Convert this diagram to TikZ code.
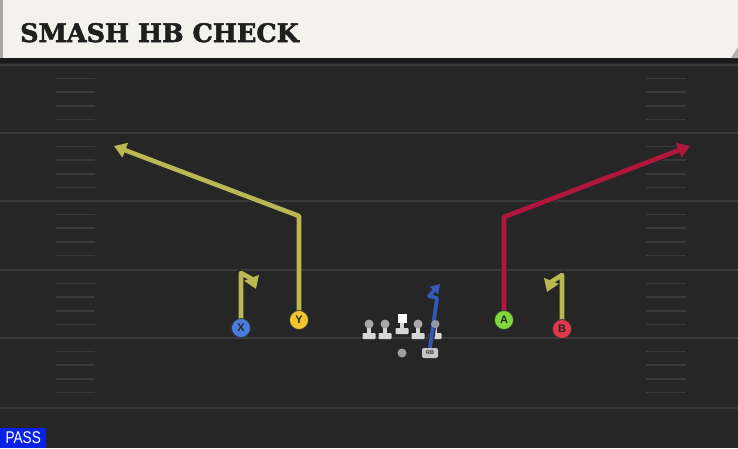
\documentclass[tikz,border=0pt]{standalone}
\usepackage{fontspec}
\setmainfont{DejaVu Serif}
\newfontfamily\titlefont[FakeBold=2]{DejaVu Serif}
\newfontfamily\labelfont{Liberation Sans}
\newfontfamily\passfont[FakeStretch=0.8]{Liberation Sans}
\usetikzlibrary{arrows.meta}
\definecolor{fieldbg}{HTML}{262626}
\definecolor{fieldline}{HTML}{3A3A3A}
\definecolor{cream}{HTML}{F4F2EC}
\definecolor{olive}{HTML}{BAB852}
\definecolor{crimson}{HTML}{B3163C}
\definecolor{rbblue}{HTML}{3558B8}
\definecolor{xblue}{HTML}{4A7BDC}
\definecolor{yyellow}{HTML}{F2C42E}
\definecolor{agreen}{HTML}{7CD83C}
\definecolor{bred}{HTML}{E0384A}
\definecolor{passblue}{HTML}{0A22E6}
\definecolor{olgray}{HTML}{D6D6D6}
\definecolor{olhead}{HTML}{A8A8A8}
\tikzset{
  yardline/.style={fieldline, line width=2pt},
  hashmark/.style={fieldline, line width=1.6pt},
  route/.style={line width=4.6pt, line join=round,
    preaction={draw=black!85, line width=6.2pt},
    -{Triangle[length=12pt,width=15pt]}},
  player/.style={circle, draw=black!80, line width=0.7pt, minimum size=19pt, inner sep=0pt, font=\labelfont\bfseries\fontsize{11}{11}\selectfont, text=black!85},
}
\begin{document}
\begin{tikzpicture}[x=1pt,y=-1pt]
\useasboundingbox (0,0) rectangle (738,448);
% field
\fill[fieldbg] (0,0) rectangle (738,448);
\fill[black!90] (0,56) rectangle (738,63);
% header
\fill[cream] (0,0) rectangle (738,58);
\fill[gray!70] (0,0) rectangle (3,58);
\fill[gray!60] (731,58) -- (738,58) -- (738,47) -- cycle;
\node[anchor=base west, inner sep=0pt, text=black!88] (title) at (20,42)
  {\titlefont\bfseries\fontsize{25.5}{25.5}\selectfont SMASH HB CHECK};
% yard lines
\foreach \yy in {65,133,201,270,338,408}{
  \draw[yardline] (0,\yy) -- (738,\yy);
}
% hash marks
\foreach \yy in {65,133,201,270,338}{
  \foreach \k in {1,2,3,4}{
    \draw[hashmark] (56,\yy+13.6*\k) -- (95,\yy+13.6*\k);
    \draw[hashmark] (646,\yy+13.6*\k) -- (686,\yy+13.6*\k);
  }
}
% route end points
\coordinate (xtop) at (241,273);
\coordinate (xend) at (256,289);
\coordinate (ybreak) at (299,216);
\coordinate (yend) at (114,146);
\coordinate (abreak) at (504,217);
\coordinate (aend) at (690,146);
\coordinate (btop) at (562,275);
\coordinate (bend) at (547,292);
\coordinate (rbtop) at (437,298);
\coordinate (rbend) at (440,284);
% player centres
\path (241,328) coordinate (Xc) (299,320) coordinate (Yc) (504,320) coordinate (Ac) (562,329) coordinate (Bc);
% routes
\draw[route, olive] (Xc) -- (xtop) -- (252,279) -- (xend);
\draw[route, olive] (Yc) -- (ybreak) -- (yend);
\draw[route, crimson] (Ac) -- (abreak) -- (aend);
\draw[route, olive] (Bc) -- (btop) -- (551,282) -- (bend);
\node[player, fill=xblue] (X) at (Xc) {X};
\node[player, fill=yyellow] (Y) at (Yc) {Y};
\node[player, fill=agreen] (A) at (Ac) {A};
\node[player, fill=bred] (B) at (Bc) {B};
% offensive line
\foreach \xx/\nm in {369/lt,385/lg,418/rg,435/rt}{
  \fill[olgray] (\xx-2,326) rectangle (\xx+2,334);
  \fill[olgray, rounded corners=0.8pt] (\xx-6.5,333) rectangle (\xx+6.5,339);
  \node[circle, fill=olhead, minimum size=9pt, inner sep=0pt] (\nm) at (\xx,324) {};
}
\fill[olgray] (400,322) rectangle (404,330);
\fill[olgray, rounded corners=0.8pt] (395.5,328) rectangle (408.5,334);
\node[rectangle, fill=white, minimum size=9pt, inner sep=0pt] (C) at (402,318) {};
% QB and RB
\node[circle, fill=gray!75, minimum size=9pt, inner sep=0pt] (QB) at (402,353) {};
\node[rectangle, rounded corners=2pt, fill=gray!45, minimum width=16pt, minimum height=10pt, inner sep=0pt,
  font=\labelfont\bfseries\fontsize{5.5}{5.5}\selectfont, text=black!80] (RB) at (430,353) {RB};
\draw[route, rbblue, line width=3.8pt, preaction={draw=none}, -{Triangle[length=9pt,width=11pt]}] (RB.north) -- (rbtop) -- (429,296) -- (rbend);
\node[circle, fill=olhead!80!rbblue, minimum size=8pt, inner sep=0pt] (rthead) at (435,324) {};
% pass tag
\node[anchor=south west, fill=passblue, text=white, inner sep=0pt, minimum width=46pt, minimum height=20pt,
  font=\passfont\fontsize{17}{17}\selectfont] (pass) at (0,448) {PASS};
\end{tikzpicture}
\end{document}
